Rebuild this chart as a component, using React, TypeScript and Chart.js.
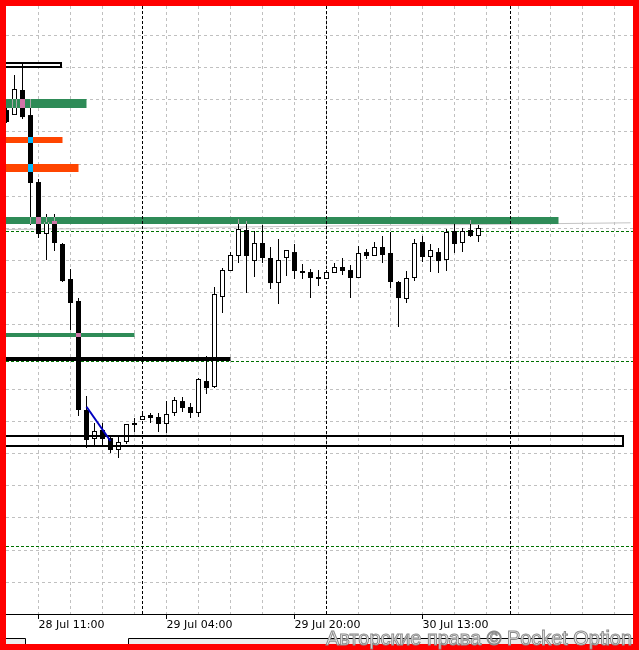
import { useEffect, useRef } from "react";
import { Chart, registerables } from "chart.js";

Chart.register(...registerables);

// Hourly candles, oldest first
const opens = [
  157.833, 157.755, 158.144, 157.755, 156.714, 155.906, 156.108, 155.751, 155.207, 154.865,
  153.171, 152.72, 152.86, 152.735, 152.549, 152.673, 152.937, 153.015, 153.093, 153.062,
  152.953, 153.124, 153.31, 153.217, 153.124, 153.621, 153.528, 154.927, 155.331, 155.564,
  155.968, 155.486, 155.766, 155.533, 155.144, 155.533, 155.626, 155.331, 155.315, 155.238,
  155.207, 155.3, 155.393, 155.346, 155.222, 155.626, 155.564, 155.704, 155.611, 155.16,
  154.896, 155.222, 155.782, 155.549, 155.626, 155.502, 155.953, 155.766, 155.968, 155.875,
];
const highs = [
  157.864, 158.377, 158.564, 158.004, 156.761, 156.217, 156.217, 155.766, 155.362, 154.911,
  153.388, 152.969, 152.969, 152.751, 152.751, 152.953, 153.046, 153.14, 153.124, 153.124,
  153.31, 153.373, 153.373, 153.279, 153.668, 154.01, 155.082, 155.378, 155.626, 156.139,
  156.108, 155.953, 156.046, 155.704, 155.828, 155.657, 155.751, 155.44, 155.362, 155.346,
  155.346, 155.455, 155.533, 155.424, 155.719, 155.673, 155.782, 155.875, 155.937, 155.175,
  155.331, 155.828, 155.875, 155.751, 155.688, 155.984, 156.061, 155.999, 156.124, 156.046,
];
const lows = [
  157.631, 157.755, 157.693, 156.046, 155.844, 155.502, 155.642, 155.16, 154.414, 153.077,
  152.58, 152.596, 152.627, 152.502, 152.425, 152.642, 152.829, 153.015, 152.969, 152.829,
  152.813, 153.077, 153.14, 153.046, 153.062, 153.419, 153.512, 154.678, 155.331, 155.455,
  154.989, 155.238, 155.455, 155.051, 154.818, 155.253, 155.207, 155.207, 154.911, 155.098,
  155.207, 155.3, 155.269, 154.911, 155.222, 155.517, 155.564, 155.455, 155.067, 154.461,
  154.834, 155.175, 155.471, 155.315, 155.3, 155.331, 155.611, 155.626, 155.859, 155.782,
];
const closes = [
  157.647, 158.16, 157.724, 156.699, 155.906, 156.092, 155.766, 155.175, 154.834, 153.171,
  152.704, 152.844, 152.72, 152.549, 152.673, 152.953, 152.969, 153.077, 153.046, 152.953,
  153.108, 153.326, 153.202, 153.124, 153.652, 153.512, 154.973, 155.346, 155.58, 155.984,
  155.564, 155.766, 155.533, 155.144, 155.502, 155.657, 155.331, 155.3, 155.222, 155.207,
  155.315, 155.393, 155.331, 155.222, 155.611, 155.564, 155.704, 155.58, 155.16, 154.911,
  155.222, 155.766, 155.549, 155.657, 155.486, 155.937, 155.751, 155.953, 155.875, 155.999,
];

// Time axis labels (bar index, text) and day separators
const tickIndices = [4, 20, 36, 52];
const tickLabels = ["28 Jul 11:00", "29 Jul 04:00", "29 Jul 20:00", "30 Jul 13:00"];
const daySeparators = [17, 40, 63];

// Zones: [upper price, lower price, bar index where the zone ends]
const greenZones = [
  [158.004, 157.857, 10],
  [156.17, 156.054, 69],
  [154.367, 154.305, 16],
];
const orangeZones = [
  [157.414, 157.328, 7],
  [156.994, 156.877, 9],
];
const outlineBoxes = [
  [158.579, 158.481, 7],
  [152.782, 152.596, 77.2],
];
const blackLevel = [153.994, 153.932, 28];
const dashedLevels = [155.953, 153.932, 151.057];
// Trend lines: [bar index, price]
const grayTrend = [
  [0, 155.984],
  [78, 156.088],
];
const blueTrend = [
  [10, 153.222],
  [13, 152.689],
];

const PRICE_MIN = 150;
const PRICE_MAX = 159.45;
const GRID_STEP = 0.5;

const GREEN = "#2e8b57";
const GREEN_INV = "#d174a8";
const ORANGE = "#ff4500";
const ORANGE_INV = "#00baff";
const WICK_GRAY = "#a9a9a9";

const isBear = (i: number) => closes[i] < opens[i];

const layers = {
  id: "terminalLayers",
  beforeDraw(chart: any) {
    const { ctx, width, height } = chart;
    ctx.save();
    ctx.fillStyle = "#ffffff";
    ctx.fillRect(0, 0, width, height);
    ctx.restore();
  },
  beforeDatasetsDraw(chart: any) {
    const { ctx, chartArea: a } = chart;
    const x = chart.scales.x;
    const y = chart.scales.y;
    ctx.save();
    ctx.beginPath();
    ctx.rect(a.left, a.top, a.right - a.left, a.bottom - a.top);
    ctx.clip();

    // light dashed grid
    ctx.lineWidth = 1;
    ctx.strokeStyle = "#c0c0c0";
    ctx.setLineDash([3, 3]);
    ctx.beginPath();
    for (let i = 4; i <= 78; i += 4) {
      const gx = Math.floor(x.getPixelForValue(i)) + 0.5;
      ctx.moveTo(gx, a.top);
      ctx.lineTo(gx, a.bottom);
    }
    for (let p = PRICE_MIN + GRID_STEP; p < PRICE_MAX; p += GRID_STEP) {
      const gy = Math.round(y.getPixelForValue(p)) + 0.5;
      ctx.moveTo(a.left, gy);
      ctx.lineTo(a.right, gy);
    }
    ctx.stroke();

    // dashed horizontal levels
    ctx.strokeStyle = "#007000";
    ctx.setLineDash([3, 2]);
    ctx.beginPath();
    dashedLevels.forEach((p) => {
      const gy = Math.round(y.getPixelForValue(p)) + 0.5;
      ctx.moveTo(a.left, gy);
      ctx.lineTo(a.right, gy);
    });
    ctx.stroke();

    // thin gray trend line
    ctx.setLineDash([]);
    ctx.strokeStyle = "#c4c4c4";
    ctx.beginPath();
    ctx.moveTo(x.getPixelForValue(grayTrend[0][0]), y.getPixelForValue(grayTrend[0][1]) + 0.5);
    ctx.lineTo(x.getPixelForValue(grayTrend[1][0]), y.getPixelForValue(grayTrend[1][1]) + 0.5);
    ctx.stroke();

    // coloured zones
    const zone = (z: number[], color: string) => {
      const top = Math.round(y.getPixelForValue(z[0]));
      const bottom = Math.round(y.getPixelForValue(z[1]));
      const right = x.getPixelForValue(z[2]);
      ctx.fillStyle = color;
      ctx.fillRect(a.left, top, right - a.left, bottom - top);
    };
    greenZones.forEach((z) => zone(z, GREEN));
    orangeZones.forEach((z) => zone(z, ORANGE));

    // day separators
    ctx.strokeStyle = "#000000";
    ctx.setLineDash([3, 2]);
    ctx.beginPath();
    daySeparators.forEach((i) => {
      const gx = Math.floor(x.getPixelForValue(i)) + 0.5;
      ctx.moveTo(gx, a.top);
      ctx.lineTo(gx, a.bottom);
    });
    ctx.stroke();
    ctx.restore();
  },
  afterDatasetsDraw(chart: any) {
    const { ctx, chartArea: a } = chart;
    const x = chart.scales.x;
    const y = chart.scales.y;
    const bodies = chart.getDatasetMeta(0).data;
    ctx.save();
    ctx.beginPath();
    ctx.rect(a.left, a.top, a.right - a.left, a.bottom - a.top);
    ctx.clip();

    // candles seen through the coloured zones
    const overlay = (z: number[], color: string, inverse: string) => {
      const zt = Math.round(y.getPixelForValue(z[0]));
      const zb = Math.round(y.getPixelForValue(z[1]));
      const zr = x.getPixelForValue(z[2]);
      for (let i = 0; i < opens.length; i++) {
        const cx = x.getPixelForValue(i);
        if (cx > zr + 0.01) continue;
        const hy = y.getPixelForValue(highs[i]);
        const ly = y.getPixelForValue(lows[i]);
        const wt = Math.max(hy, zt);
        const wb = Math.min(ly, zb);
        if (wb > wt) {
          ctx.fillStyle = WICK_GRAY;
          ctx.fillRect(Math.floor(cx), wt, 1, wb - wt);
        }
        const el = bodies[i];
        const { x: bx, y: by, base, width } = el.getProps(["x", "y", "base", "width"], true);
        const bt = Math.min(by, base);
        const bb = Math.max(by, base);
        const it = Math.max(bt, zt);
        const ib = Math.min(bb, zb);
        if (ib > it) {
          const l = bx - width / 2;
          if (isBear(i)) {
            ctx.fillStyle = inverse;
            ctx.fillRect(l, it, width, ib - it);
          } else {
            ctx.fillStyle = color;
            ctx.fillRect(l, it, width, ib - it);
            ctx.fillStyle = WICK_GRAY;
            ctx.fillRect(l, it, 1, ib - it);
            ctx.fillRect(l + width - 1, it, 1, ib - it);
          }
        }
      }
    };
    greenZones.forEach((z) => overlay(z, GREEN, GREEN_INV));
    orangeZones.forEach((z) => overlay(z, ORANGE, ORANGE_INV));

    // solid black level
    {
      const top = Math.round(y.getPixelForValue(blackLevel[0]));
      const bottom = Math.round(y.getPixelForValue(blackLevel[1]));
      const right = x.getPixelForValue(blackLevel[2]);
      ctx.fillStyle = "#000000";
      ctx.fillRect(a.left, top, right - a.left, bottom - top);
    }

    // outlined boxes
    ctx.strokeStyle = "#000000";
    ctx.lineWidth = 2;
    outlineBoxes.forEach((b) => {
      const top = Math.round(y.getPixelForValue(b[0]));
      const bottom = Math.round(y.getPixelForValue(b[1]));
      const right = Math.round(x.getPixelForValue(b[2]));
      ctx.strokeRect(a.left - 4, top + 1, right - 1 - (a.left - 4), bottom - top - 2);
    });

    // blue trend line
    ctx.strokeStyle = "#0000c0";
    ctx.lineWidth = 2;
    ctx.beginPath();
    ctx.moveTo(x.getPixelForValue(blueTrend[0][0]), y.getPixelForValue(blueTrend[0][1]));
    ctx.lineTo(x.getPixelForValue(blueTrend[1][0]), y.getPixelForValue(blueTrend[1][1]));
    ctx.stroke();
    ctx.restore();

    // time axis
    ctx.save();
    ctx.fillStyle = "#000000";
    ctx.fillRect(a.left, Math.round(a.bottom), a.right - a.left, 1);
    ctx.font = "11px 'DejaVu Sans'";
    ctx.textAlign = "left";
    ctx.textBaseline = "alphabetic";
    tickIndices.forEach((i, k) => {
      const tx = Math.floor(x.getPixelForValue(i));
      ctx.fillRect(tx, Math.round(a.bottom) + 1, 1, 4);
      ctx.fillText(tickLabels[k], tx + 0.5, 628);
    });

    // panel tabs under the axis
    ctx.fillStyle = "#ececec";
    ctx.fillRect(6, 639, 19, 5);
    ctx.fillRect(129, 639, 504, 5);
    ctx.strokeStyle = "#000000";
    ctx.lineWidth = 1;
    ctx.beginPath();
    ctx.moveTo(6, 638.5);
    ctx.lineTo(25.5, 638.5);
    ctx.lineTo(25.5, 644);
    ctx.moveTo(128.5, 644);
    ctx.lineTo(128.5, 638.5);
    ctx.lineTo(633, 638.5);
    ctx.stroke();

    // red frame
    ctx.fillStyle = "#ff0000";
    ctx.fillRect(0, 0, 639, 6);
    ctx.fillRect(0, 0, 6, 650);
    ctx.fillRect(633, 0, 6, 650);
    ctx.fillRect(0, 644, 639, 6);

    // watermark
    const mark = "Авторские права © Pocket Option";
    ctx.font = "20px 'Liberation Sans'";
    const w = ctx.measureText(mark).width;
    const size = (20 * 306) / w;
    ctx.font = `${size.toFixed(2)}px 'Liberation Sans'`;
    ctx.textAlign = "right";
    ctx.lineWidth = 1;
    ctx.fillStyle = "#f4f4f4";
    ctx.strokeStyle = "#8c8c8c";
    ctx.fillText(mark, 632, 645);
    ctx.strokeText(mark, 632, 645);
    ctx.restore();
  },
};

export default function App() {
  const canvasRef = useRef<HTMLCanvasElement | null>(null);

  useEffect(() => {
    const canvas = canvasRef.current;
    if (!canvas) return;
    const chart = new Chart(canvas, {
      type: "bar",
      data: {
        datasets: [
          {
            label: "body",
            data: opens.map((o, i) => ({ x: i, y: [o, closes[i]] })) as any,
            backgroundColor: opens.map((_, i) => (isBear(i) ? "#000000" : "#ffffff")),
            borderColor: "#000000",
            borderWidth: opens.map((_, i) => (isBear(i) ? 0 : 1)),
            borderSkipped: false,
            barThickness: 5,
            grouped: false,
            inflateAmount: 0,
            order: 0,
          },
          {
            label: "wick",
            data: lows.map((l, i) => ({ x: i, y: [l, highs[i]] })) as any,
            backgroundColor: "#000000",
            borderWidth: 0,
            barThickness: 1,
            grouped: false,
            inflateAmount: 0,
            order: 1,
          },
        ],
      },
      options: {
        responsive: false,
        animation: false,
        events: [],
        layout: { padding: { left: 6, top: 6, right: 6, bottom: 36 } },
        scales: {
          x: { type: "linear", display: false, offset: false, min: -0.0625, max: 78.3125 },
          y: { type: "linear", display: false, min: PRICE_MIN, max: PRICE_MAX },
        },
        plugins: {
          legend: { display: false },
          tooltip: { enabled: false },
        },
      } as any,
      plugins: [layers],
    });
    return () => chart.destroy();
  }, []);

  return (
    <div style={{ position: "fixed", left: 0, top: 0, width: 639, height: 650 }}>
      <canvas ref={canvasRef} width={639} height={650} style={{ display: "block" }} />
    </div>
  );
}
